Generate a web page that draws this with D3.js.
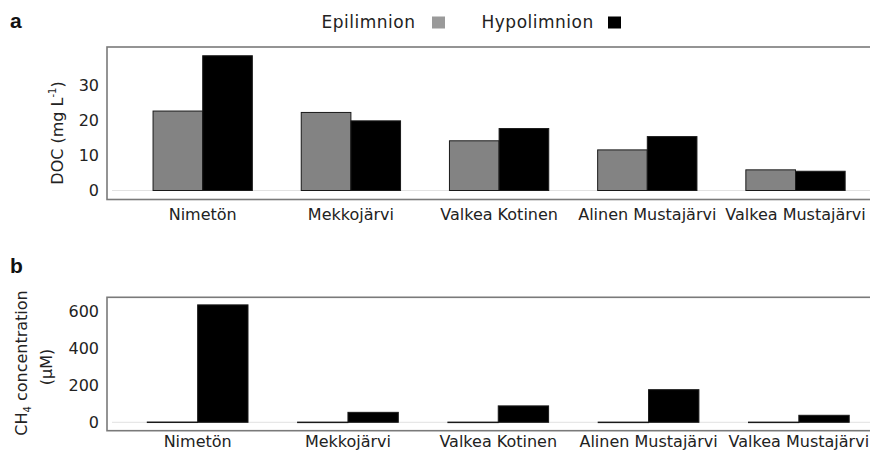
<!DOCTYPE html>
<html>
<head>
<meta charset="utf-8">
<script src="https://cdn.jsdelivr.net/npm/d3@7"></script>
<style>
  html, body { margin: 0; padding: 0; background: #fff; }
  svg { display: block; font-family: "DejaVu Sans", sans-serif; }
</style>
</head>
<body>
<svg id="chart" width="870" height="457"></svg>
<script>
// Lakes and measured values
const lakes = ["Nimetön", "Mekkojärvi", "Valkea Kotinen", "Alinen Mustajärvi", "Valkea Mustajärvi"];
const seriesNames = ["Epilimnion", "Hypolimnion"];
const docEpi = [22.7, 22.3, 14.2, 11.6, 5.9];
const docHypo = [38.5, 19.9, 17.7, 15.4, 5.5];
const ch4Epi = [1.5, 1, 1, 1, 1];
const ch4Hypo = [637, 54, 89, 177, 38];
const docTicks = [0, 10, 20, 30];
const ch4Ticks = [0, 200, 400, 600];

const colors = { Epilimnion: "#838383", Hypolimnion: "#000000" };
const FONT = 16;

const svg = d3.select("#chart");

function panel(opts) {
  const g = svg.append("g");
  const x0 = d3.scaleBand().domain(lakes).range(opts.xRange)
    .paddingInner(0.33).paddingOuter(0.165);
  const x1 = d3.scaleBand().domain(seriesNames).range([0, x0.bandwidth()]);
  const y = d3.scaleLinear().domain([0, opts.tickVals[opts.tickVals.length - 1]]).range(opts.yRange);

  // zero reference line
  g.append("line")
    .attr("x1", opts.box.left + 5).attr("x2", 875)
    .attr("y1", y(0)).attr("y2", y(0))
    .attr("stroke", "#e2e2e2").attr("stroke-width", 1);

  const rows = lakes.map((l, i) => ({ lake: l, Epilimnion: opts.epi[i], Hypolimnion: opts.hypo[i] }));
  g.selectAll("g.grp").data(rows).join("g")
    .attr("class", "grp")
    .attr("transform", d => `translate(${x0(d.lake)},0)`)
    .selectAll("rect")
    .data(d => seriesNames.map(s => ({ s, v: d[s] })))
    .join("rect")
    .attr("x", d => x1(d.s))
    .attr("width", x1.bandwidth())
    .attr("y", d => y(d.v))
    .attr("height", d => Math.max(0.5, y(0) - y(d.v)))
    .attr("fill", d => colors[d.s])
    .attr("stroke", "#1a1a1a")
    .attr("stroke-width", 1);

  // frame
  g.append("rect")
    .attr("x", opts.box.left).attr("y", opts.box.top)
    .attr("width", 880 - opts.box.left).attr("height", opts.box.bottom - opts.box.top)
    .attr("fill", "none").attr("stroke", "#7a7a7a").attr("stroke-width", 1.6);

  // y axis
  const ya = g.append("g")
    .attr("transform", `translate(${opts.box.left},0)`)
    .call(d3.axisLeft(y).tickValues(opts.tickVals).tickSize(0).tickPadding(8));
  ya.select(".domain").remove();
  ya.selectAll("text").attr("font-size", FONT).attr("fill", "#222").attr("font-family", "DejaVu Sans, sans-serif");

  // x axis labels
  const xa = g.append("g")
    .attr("transform", `translate(0,${opts.box.bottom})`)
    .call(d3.axisBottom(x0).tickSize(0).tickPadding(opts.labelPad));
  xa.select(".domain").remove();
  xa.selectAll("text").attr("font-size", FONT).attr("fill", "#222").attr("font-family", "DejaVu Sans, sans-serif");

  return g;
}

// Panel a: DOC
panel({
  xRange: [128.6, 869.6],
  yRange: [190.5, 85.5],
  box: { left: 107, top: 47, bottom: 199.5 },
  tickVals: docTicks,
  epi: docEpi, hypo: docHypo,
  labelPad: 9
});

// Panel b: CH4
panel({
  xRange: [122.5, 874],
  yRange: [422.3, 311.7],
  box: { left: 107, top: 297.3, bottom: 430.7 },
  tickVals: ch4Ticks,
  epi: ch4Epi, hypo: ch4Hypo,
  labelPad: 4.6
});

// Panel letters
svg.append("text").attr("x", 10).attr("y", 28).attr("font-size", 21).attr("font-weight", "bold")
  .attr("font-family", "Liberation Sans, Arial, sans-serif").attr("fill", "#111").text("a");
svg.append("text").attr("x", 10).attr("y", 273).attr("font-size", 21).attr("font-weight", "bold")
  .attr("font-family", "Liberation Sans, Arial, sans-serif").attr("fill", "#111").text("b");

// Y axis titles
const tA = svg.append("text")
  .attr("transform", "translate(63,133) rotate(-90)")
  .attr("text-anchor", "middle").attr("font-size", FONT).attr("fill", "#222");
tA.append("tspan").text("DOC (mg L");
tA.append("tspan").attr("font-size", 10).attr("dy", -7).text("-1");
tA.append("tspan").attr("dy", 7).text(")");

const tB1 = svg.append("text")
  .attr("transform", "translate(27,363) rotate(-90)")
  .attr("text-anchor", "middle").attr("font-size", FONT).attr("fill", "#222");
tB1.append("tspan").text("CH");
tB1.append("tspan").attr("font-size", 10).attr("dy", 4).text("4");
tB1.append("tspan").attr("dy", -4).text(" concentration");

svg.append("text")
  .attr("transform", "translate(52,367) rotate(-90)")
  .attr("text-anchor", "middle").attr("font-size", FONT).attr("fill", "#222")
  .text("(µM)");

// Legend
const legend = svg.append("g");
const legendItems = [
  { name: "Epilimnion", tx: 321.5, sx: 432, fill: "#9a9a9a" },
  { name: "Hypolimnion", tx: 481.5, sx: 608, fill: "#000" }
];
legendItems.forEach(d => {
  legend.append("text").attr("x", d.tx).attr("y", 28).attr("font-size", 17)
    .attr("fill", "#222").attr("letter-spacing", 0.5).text(d.name);
  legend.append("rect").attr("x", d.sx).attr("y", 16.5).attr("width", 13).attr("height", 12)
    .attr("fill", d.fill);
});
</script>
</body>
</html>
